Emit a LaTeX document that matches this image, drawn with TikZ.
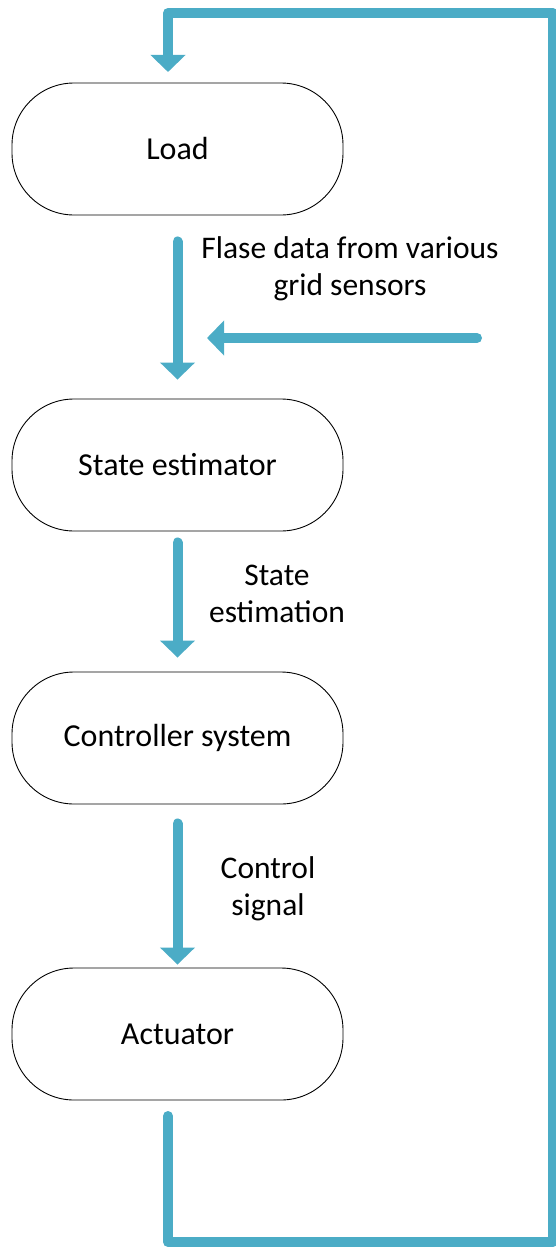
\documentclass[tikz,border=0pt]{standalone}
\usepackage{fontspec}
\setmainfont{Carlito}
\usetikzlibrary{arrows.meta}
\definecolor{flow}{HTML}{4BACC6}
\tikzset{
  stadium/.style={draw=black, line width=0.9pt, rounded corners=62pt, minimum width=331pt, minimum height=132pt, inner sep=0pt, font=\fontsize{32}{38}\selectfont},
  flowarrow/.style={draw=flow, line width=10pt, line cap=round, line join=round, -{Triangle[width=34pt, length=17pt]}},
  lbl/.style={align=center, font=\fontsize{31.5}{37}\selectfont, inner sep=0pt}
}
\begin{document}
\begin{tikzpicture}[x=1pt, y=-1pt]
\useasboundingbox (0,0) rectangle (556,1247);
\node[stadium] (load) at (177.5,149) {Load};
\node[stadium] (state) at (177.5,465) {State estimator};
\node[stadium] (ctrl) at (177.5,738) {Controller system};
\node[stadium] (act) at (177.5,1034) {Actuator};

\node[lbl] (l1) at (350,269) {Flase data from various\\grid sensors};
\node[lbl] (l2) at (277,594) {State\\estimation};
\node[lbl] (l3) at (268,889) {Control\\signal};

\draw[flowarrow, shorten <=26pt, shorten >=19pt] (load.south) -- (state.north);
\draw[flowarrow, shorten <=11pt, shorten >=14pt] (state.south) -- (ctrl.north);
\draw[flowarrow, shorten <=19pt, shorten >=3pt] (ctrl.south) -- (act.north);

\coordinate (sens) at (477,338);
\coordinate (sensend) at (207,338);
\draw[flowarrow] (sens) -- (sensend);

\coordinate (fbstart) at (168,1116);
\coordinate (fbend) at (168,72);
\draw[flowarrow] (fbstart) -- (168,1242) -- (553,1242) -- (553,13) -- (168,13) -- (fbend);
\end{tikzpicture}
\end{document}
